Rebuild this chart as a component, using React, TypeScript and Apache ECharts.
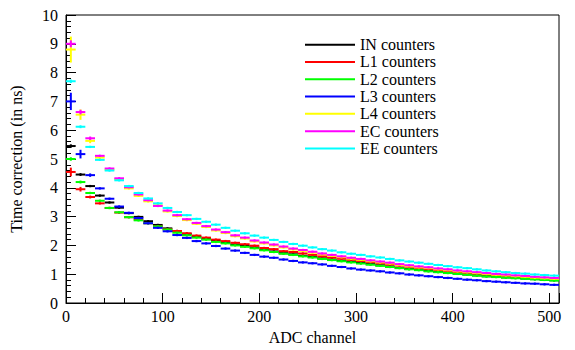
import React, { useEffect, useRef } from "react";
import * as echarts from "echarts";

// Histogram bins: 10 ADC channels wide, starting at 0 (51 bins: 0..510)
const BIN_WIDTH = 10;

const seriesNames = [
  "IN counters",
  "L1 counters",
  "L2 counters",
  "L3 counters",
  "L4 counters",
  "EC counters",
  "EE counters",
];

const seriesColors = ["#000000", "#ff0000", "#00ff00", "#0000ff", "#ffff00", "#ff00ff", "#00ffff"];

const inValues = [
  5.45, 4.46, 4.06, 3.73, 3.49, 3.31, 3.12, 2.99, 2.84, 2.71,
  2.59, 2.5, 2.4, 2.3, 2.23, 2.17, 2.1, 2.03, 1.98, 1.93,
  1.85, 1.79, 1.73, 1.69, 1.64, 1.6, 1.55, 1.51, 1.47, 1.43,
  1.39, 1.35, 1.31, 1.27, 1.22, 1.18, 1.15, 1.11, 1.08, 1.05,
  1.02, 0.99, 0.96, 0.93, 0.91, 0.89, 0.87, 0.85, 0.83, 0.81, 0.79,
];
const l1Values = [
  4.55, 3.95, 3.68, 3.46, 3.3, 3.14, 2.98, 2.9, 2.77, 2.66,
  2.56, 2.5, 2.42, 2.34, 2.27, 2.2, 2.15, 2.09, 2.04, 1.99,
  1.91, 1.87, 1.8, 1.77, 1.72, 1.67, 1.62, 1.58, 1.54, 1.5,
  1.46, 1.42, 1.38, 1.34, 1.3, 1.26, 1.22, 1.18, 1.15, 1.12,
  1.08, 1.05, 1.02, 0.99, 0.97, 0.95, 0.93, 0.91, 0.89, 0.87, 0.85,
];
const l2Values = [
  5.0, 4.2, 3.82, 3.55, 3.3, 3.15, 2.98, 2.87, 2.77, 2.66,
  2.55, 2.44, 2.35, 2.27, 2.2, 2.12, 2.07, 2.0, 1.95, 1.9,
  1.83, 1.77, 1.71, 1.67, 1.62, 1.58, 1.53, 1.49, 1.45, 1.41,
  1.37, 1.33, 1.29, 1.25, 1.21, 1.17, 1.14, 1.1, 1.07, 1.04,
  1.01, 0.98, 0.95, 0.92, 0.9, 0.88, 0.86, 0.84, 0.82, 0.8, 0.78,
];
const l3Values = [
  7.0, 5.17, 4.44, 3.98, 3.62, 3.35, 3.13, 2.95, 2.77, 2.61,
  2.49, 2.36, 2.26, 2.15, 2.07, 1.98, 1.89, 1.82, 1.74, 1.67,
  1.61, 1.57, 1.51, 1.46, 1.41, 1.38, 1.34, 1.29, 1.25, 1.2,
  1.16, 1.13, 1.1, 1.06, 1.03, 0.99, 0.96, 0.93, 0.9, 0.87,
  0.84, 0.81, 0.79, 0.76, 0.74, 0.72, 0.7, 0.68, 0.67, 0.65, 0.63,
];
const l4Values = [
  8.8, 6.54, 5.63, 5.05, 4.63, 4.3, 3.98, 3.72, 3.53, 3.39,
  3.18, 3.02, 2.88, 2.75, 2.64, 2.52, 2.43, 2.32, 2.24, 2.14,
  2.07, 2.0, 1.93, 1.86, 1.81, 1.75, 1.69, 1.64, 1.59, 1.54,
  1.5, 1.45, 1.41, 1.37, 1.32, 1.28, 1.24, 1.21, 1.17, 1.14,
  1.1, 1.07, 1.04, 1.01, 0.98, 0.96, 0.93, 0.91, 0.88, 0.86, 0.84,
];
const ecValues = [
  9.0, 6.63, 5.72, 5.11, 4.67, 4.33, 4.02, 3.77, 3.57, 3.37,
  3.21, 3.05, 2.91, 2.78, 2.67, 2.55, 2.46, 2.35, 2.27, 2.17,
  2.1, 2.03, 1.96, 1.89, 1.84, 1.78, 1.72, 1.67, 1.62, 1.57,
  1.53, 1.48, 1.44, 1.4, 1.35, 1.31, 1.27, 1.24, 1.2, 1.17,
  1.13, 1.1, 1.07, 1.04, 1.01, 0.99, 0.96, 0.94, 0.91, 0.89, 0.87,
];
const eeValues = [
  7.7, 6.12, 5.42, 4.97, 4.6, 4.26, 4.06, 3.82, 3.63, 3.46,
  3.3, 3.16, 3.05, 2.92, 2.82, 2.72, 2.61, 2.51, 2.42, 2.34,
  2.27, 2.19, 2.12, 2.05, 1.99, 1.93, 1.87, 1.82, 1.76, 1.71,
  1.67, 1.62, 1.58, 1.53, 1.48, 1.44, 1.4, 1.36, 1.32, 1.28,
  1.24, 1.21, 1.17, 1.13, 1.1, 1.07, 1.04, 1.02, 0.99, 0.97, 0.95,
];

// leading-bin statistical errors (later bins use the small common error)
const inErrors = [0.06, 0.05];
const l1Errors = [0.15, 0.08, 0.05];
const l2Errors = [0.06, 0.05];
const l3Errors = [0.3, 0.15, 0.06];
const l4Errors = [0.45, 0.18, 0.08, 0.06];
const ecErrors = [0.12, 0.08, 0.06];
const eeErrors = [0.06, 0.05];
const COMMON_ERROR = 0.04;

const allValues = [inValues, l1Values, l2Values, l3Values, l4Values, ecValues, eeValues];
const allErrors = [inErrors, l1Errors, l2Errors, l3Errors, l4Errors, ecErrors, eeErrors];

const xTicks = { min: 0, max: 510, interval: 100 };
const yTicks = { min: 0, max: 10, interval: 1 };

const FONT = "Liberation Serif";

export default function App() {
  const ref = useRef<HTMLDivElement>(null);

  useEffect(() => {
    if (!ref.current) return;
    const chart = echarts.init(ref.current, null, { renderer: "svg" });

    const series = seriesNames.map((name, s) => {
      const color = seriesColors[s];
      const data = allValues[s].map((v, i) => [
        i * BIN_WIDTH,
        (i + 1) * BIN_WIDTH,
        v,
        allErrors[s][i] !== undefined ? allErrors[s][i] : COMMON_ERROR,
      ]);
      return {
        name,
        type: "custom",
        itemStyle: { color },
        data,
        encode: { x: [0, 1], y: 2 },
        renderItem: (params: any, api: any) => {
          const x0 = api.value(0);
          const x1 = api.value(1);
          const y = api.value(2);
          const e = api.value(3);
          const xc = (x0 + x1) / 2;
          const p0 = api.coord([x0, y]);
          const p1 = api.coord([x1, y]);
          const t = api.coord([xc, y + e]);
          const b = api.coord([xc, y - e]);
          return {
            type: "group",
            children: [
              {
                type: "line",
                shape: { x1: p0[0], y1: p0[1], x2: p1[0], y2: p1[1] },
                style: { stroke: color, lineWidth: 2 },
              },
              {
                type: "line",
                shape: { x1: t[0], y1: t[1], x2: b[0], y2: b[1] },
                style: { stroke: color, lineWidth: 2 },
              },
            ],
          };
        },
      };
    });

    chart.setOption({
      animation: false,
      backgroundColor: "#ffffff",
      textStyle: { fontFamily: FONT },
      grid: {
        left: 62,
        right: 16,
        top: 15,
        bottom: 43,
        show: true,
        borderColor: "#000",
        borderWidth: 1,
        backgroundColor: "transparent",
      },
      legend: {
        orient: "vertical",
        left: 305,
        top: 36,
        padding: 0,
        itemWidth: 50,
        itemHeight: 2,
        itemGap: 0,
        icon: "rect",
        data: seriesNames,
        textStyle: { fontFamily: FONT, fontSize: 16, color: "#000", lineHeight: 17.3 },
      },
      xAxis: {
        type: "value",
        min: xTicks.min,
        max: xTicks.max,
        interval: xTicks.interval,
        name: "ADC channel",
        nameLocation: "middle",
        nameGap: 26,
        nameTextStyle: { fontFamily: FONT, fontSize: 16, color: "#000" },
        axisLine: { show: true, lineStyle: { color: "#000", width: 1 } },
        axisTick: { show: true, inside: true, length: 10, lineStyle: { color: "#000" } },
        minorTick: { show: true, splitNumber: 5, length: 5, lineStyle: { color: "#000" } },
        axisLabel: {
          fontFamily: FONT,
          fontSize: 16,
          color: "#000",
          margin: 5,
          showMaxLabel: false,
        },
        splitLine: { show: false },
      },
      yAxis: {
        type: "value",
        min: yTicks.min,
        max: yTicks.max,
        interval: yTicks.interval,
        name: "Time correction (in ns)",
        nameLocation: "middle",
        nameGap: 42,
        nameTextStyle: { fontFamily: FONT, fontSize: 16, color: "#000" },
        axisLine: { show: true, lineStyle: { color: "#000", width: 1 } },
        axisTick: { show: true, inside: true, length: 10, lineStyle: { color: "#000" } },
        minorTick: { show: true, splitNumber: 5, length: 5, lineStyle: { color: "#000" } },
        axisLabel: { fontFamily: FONT, fontSize: 16, color: "#000", margin: 8 },
        splitLine: { show: false },
      },
      series,
    });

    return () => chart.dispose();
  }, []);

  return (
    <div
      ref={ref}
      style={{ position: "fixed", left: 0, top: 0, width: 575, height: 350 }}
    />
  );
}
